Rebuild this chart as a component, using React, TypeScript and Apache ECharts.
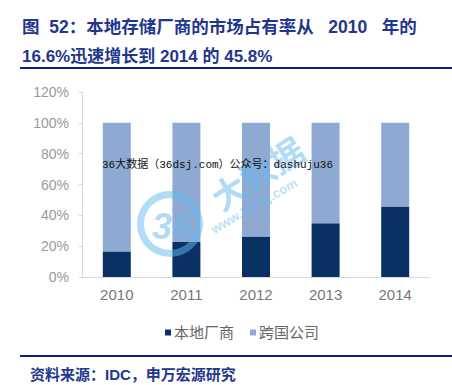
import React, { useEffect, useRef } from "react";
import * as echarts from "echarts";

const categories = ["2010", "2011", "2012", "2013", "2014"];
const localVendors = [16.6, 22.7, 26.3, 34.8, 45.8];
const multinationals = [83.4, 77.3, 73.7, 65.2, 54.2];
const seriesNames = ["本地厂商", "跨国公司"];
const titleLine1 = "图  52：本地存储厂商的市场占有率从   2010   年的";
const titleLine2 = "16.6%迅速增长到 2014 的 45.8%";
const sourceText = "资料来源：IDC，申万宏源研究";
const watermarkText = "36大数据（36dsj.com）公众号：dashuju36";

const CJK = '"Liberation Sans", "Noto Sans CJK SC", sans-serif';
const BLUE = "#23368E";
const WM = "rgba(100,185,240,0.5)";

export default function App() {
  const ref = useRef<HTMLDivElement>(null);
  useEffect(() => {
    if (!ref.current) return;
    const chart = echarts.init(ref.current, null, { renderer: "svg" });
    chart.setOption({
      animation: false,
      backgroundColor: "#ffffff",
      grid: { left: 82, right: 22, top: 92, bottom: 108 },
      legend: {
        data: seriesNames,
        top: 320,
        left: 160,
        itemWidth: 6,
        itemHeight: 6,
        itemGap: 16,
        icon: "rect",
        textStyle: { color: "#666", fontSize: 15, fontFamily: CJK, padding: [0, 0, 0, -2] },
      },
      xAxis: {
        type: "category",
        data: categories,
        axisLine: { lineStyle: { color: "#D9D9D9" } },
        axisTick: { show: false },
        axisLabel: { color: "#777", fontSize: 15, margin: 10, fontFamily: CJK },
      },
      yAxis: {
        type: "value",
        min: 0,
        max: 120,
        interval: 20,
        axisLine: { show: true, lineStyle: { color: "#D9D9D9" } },
        axisTick: { show: true, length: 3, lineStyle: { color: "#D9D9D9" } },
        splitLine: { show: false },
        axisLabel: { color: "#999", fontSize: 14, margin: 13, formatter: "{value}%", fontFamily: CJK },
      },
      series: [
        {
          name: seriesNames[0],
          type: "bar",
          stack: "total",
          barWidth: 28,
          data: localVendors,
          itemStyle: { color: "#0A3163" },
        },
        {
          name: seriesNames[1],
          type: "bar",
          stack: "total",
          barWidth: 28,
          data: multinationals,
          itemStyle: { color: "#8EAAD3" },
        },
      ],
      graphic: [
        {
          type: "text",
          left: 22,
          top: 18,
          style: { text: titleLine1, fill: BLUE, font: `bold 17.5px ${CJK}` },
        },
        {
          type: "text",
          left: 22,
          top: 48,
          style: { text: titleLine2, fill: BLUE, font: `bold 17px ${CJK}` },
        },
        {
          type: "rect",
          shape: { x: 20, y: 67, width: 432, height: 2 },
          style: { fill: "#101C8A" },
        },
        {
          type: "rect",
          shape: { x: 20, y: 355, width: 432, height: 2 },
          style: { fill: "#101C8A" },
        },
        {
          type: "text",
          left: 30,
          top: 367,
          style: { text: sourceText, fill: BLUE, font: `bold 15px ${CJK}` },
        },
        {
          type: "ring",
          z: 50,
          shape: { cx: 170, cy: 224, r: 33, r0: 26 },
          style: { fill: WM },
        },
        {
          type: "text",
          z: 50,
          x: 172,
          y: 226,
          style: {
            text: "36",
            fill: WM,
            font: "bold italic 36px 'Liberation Sans'",
            align: "center",
            verticalAlign: "middle",
          },
        },
        {
          type: "text",
          z: 50,
          x: 214,
          y: 200,
          rotation: 0.57,
          style: {
            text: "大数据",
            fill: WM,
            font: "bold 34px 'Noto Sans CJK SC'",
            verticalAlign: "middle",
          },
        },
        {
          type: "text",
          z: 50,
          x: 212,
          y: 230,
          rotation: 0.52,
          style: {
            text: "www.36dsj.com",
            fill: "rgba(100,185,240,0.45)",
            font: "bold 13px 'Liberation Sans'",
            verticalAlign: "middle",
          },
        },
        {
          type: "text",
          left: 102,
          top: 159,
          z: 60,
          style: {
            text: watermarkText,
            fill: "#111",
            font: `11px "Liberation Mono", "Noto Sans CJK SC", monospace`,
          },
        },
      ],
    });
    return () => chart.dispose();
  }, []);
  return <div ref={ref} style={{ width: 452, height: 385, position: "absolute", left: 0, top: 0 }} />;
}
